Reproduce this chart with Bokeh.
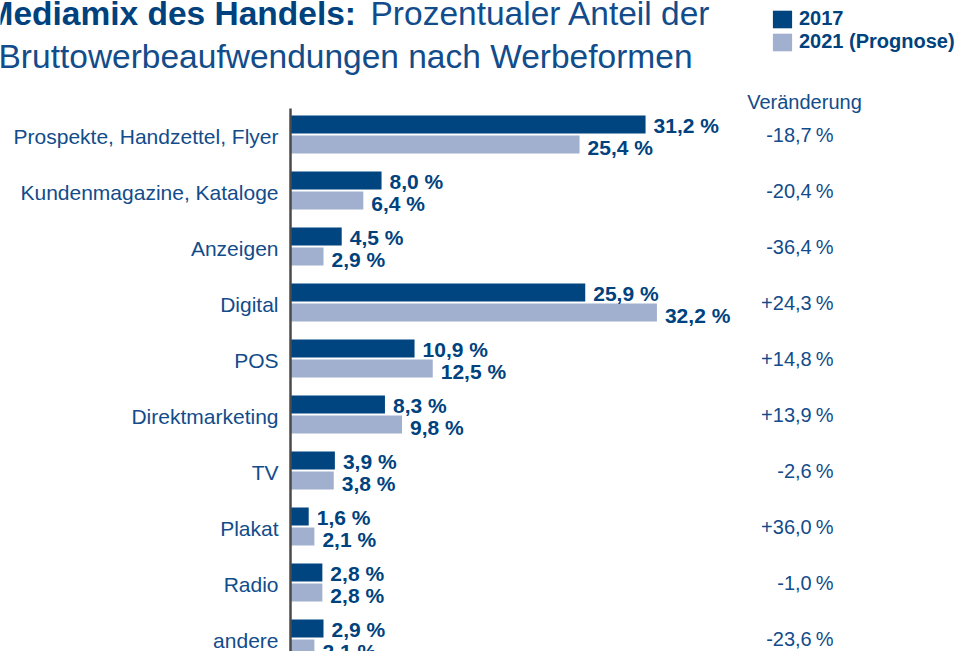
from bokeh.plotting import figure
from bokeh.models import ColumnDataSource, Range1d, Label, Legend, LegendItem
from bokeh.transform import dodge
from bokeh.core.properties import value
from bokeh.embed import file_html
from bokeh.resources import INLINE

# ---------------- data ----------------
categories = [
    "Prospekte, Handzettel, Flyer",
    "Kundenmagazine, Kataloge",
    "Anzeigen",
    "Digital",
    "POS",
    "Direktmarketing",
    "TV",
    "Plakat",
    "Radio",
    "andere",
]
share_2017 = [31.2, 8.0, 4.5, 25.9, 10.9, 8.3, 3.9, 1.6, 2.8, 2.9]
share_2021 = [25.4, 6.4, 2.9, 32.2, 12.5, 9.8, 3.8, 2.1, 2.8, 2.1]
change_pct = [-18.7, -20.4, -36.4, 24.3, 14.8, 13.9, -2.6, 36.0, -1.0, -23.6]
series_labels = ["2017", "2021 (Prognose)"]

title_bold = "Mediamix des Handels:"
title_rest = "Prozentualer Anteil der"
title_line2 = "Bruttowerbeaufwendungen nach Werbeformen"
change_header = "Veränderung"

# ---------------- style / layout ----------------
W, H = 958, 651
PX_PER_PCT = 11.38
ZERO_X = 290
ROW0_Y = 134
ROW_H = 56
BAR_H = 18 / ROW_H
BAR_OFF = 10 / ROW_H

DARK = "#00457f"
LIGHT = "#a2b0d0"
TXT = "#124c8a"
TXT_B = "#00427e"
FONT_NAME = "Liberation Sans"
FONT = value(FONT_NAME)


def fmt_pct(v):
    return f"{v:.1f}".replace(".", ",") + " %"


def fmt_chg(v):
    return f"{v:+.1f}".replace(".", ",") + "\u2009%"


src = ColumnDataSource(dict(
    cat=categories,
    idx=list(range(len(categories))),
    v17=share_2017,
    v21=share_2021,
    lab17=[fmt_pct(v) for v in share_2017],
    lab21=[fmt_pct(v) for v in share_2021],
    chg=[fmt_chg(v) for v in change_pct],
))

p = figure(
    width=W, height=H,
    x_range=Range1d(-ZERO_X / PX_PER_PCT, (W - ZERO_X) / PX_PER_PCT),
    y_range=Range1d((H - ROW0_Y) / ROW_H, -ROW0_Y / ROW_H),
    x_axis_type=None, y_axis_type=None,
    min_border=0, toolbar_location=None, output_backend="svg",
    outline_line_color=None,
)
p.xgrid.visible = False
p.ygrid.visible = False
p.background_fill_color = "white"
p.border_fill_color = "white"

r17 = p.hbar(y=dodge("idx", -BAR_OFF, range=p.y_range), left=0, right="v17",
             height=BAR_H, fill_color=DARK, line_color=None, source=src)
r21 = p.hbar(y=dodge("idx", BAR_OFF, range=p.y_range), left=0, right="v21",
             height=BAR_H, fill_color=LIGHT, line_color=None, source=src)

# vertical axis line
p.segment(x0=[0], y0=[-0.464], x1=[0], y1=[10], line_color="#4a4a4a", line_width=2.5)

# value labels
p.text(x="v17", y=dodge("idx", -BAR_OFF, range=p.y_range), text="lab17", source=src,
       x_offset=8, y_offset=1, text_baseline="middle", text_align="left",
       text_font=FONT, text_font_style="bold", text_font_size="21px", text_color=TXT_B)
p.text(x="v21", y=dodge("idx", BAR_OFF, range=p.y_range), text="lab21", source=src,
       x_offset=8, y_offset=3, text_baseline="middle", text_align="left",
       text_font=FONT, text_font_style="bold", text_font_size="21px", text_color=TXT_B)

# category labels
p.text(x=0, y="idx", text="cat", source=src, x_offset=-12, y_offset=2,
       text_align="right", text_baseline="middle",
       text_font=FONT, text_font_size="21px", text_color=TXT)

# change column
p.text(x=0, y="idx", text="chg", source=src, x_offset=543, y_offset=0,
       text_align="right", text_baseline="middle",
       text_font=FONT, text_font_size="20px", text_color=TXT)

# header of change column
p.add_layout(Label(x=804, y=H - 101, x_units="screen", y_units="screen",
                   text=change_header, text_align="center", text_baseline="middle",
                   text_font=FONT_NAME, text_font_size="20px", text_color=TXT))

# title
p.add_layout(Label(x=-15, y=H - 13, x_units="screen", y_units="screen",
                   text=title_bold, text_baseline="alphabetic",
                   text_font=FONT_NAME, text_font_style="bold", text_font_size="33.5px",
                   text_color=TXT_B))
p.add_layout(Label(x=370, y=H - 13, x_units="screen", y_units="screen",
                   text=title_rest, text_baseline="alphabetic",
                   text_font=FONT_NAME, text_font_size="33.5px", text_color=TXT))
p.add_layout(Label(x=-2, y=H - 56, x_units="screen", y_units="screen",
                   text=title_line2, text_baseline="alphabetic",
                   text_font=FONT_NAME, text_font_size="33.5px", text_color=TXT))

# legend
legend = Legend(
    items=[LegendItem(label=series_labels[0], renderers=[r17]),
           LegendItem(label=series_labels[1], renderers=[r21])],
    location=(770, H - 53), orientation="vertical",
    glyph_width=24, glyph_height=22, label_standoff=5, spacing=0,
    padding=0, margin=0, border_line_color=None, background_fill_alpha=0,
    label_text_font=FONT_NAME, label_text_font_style="bold",
    label_text_font_size="20px", label_text_color=TXT_B,
)
p.add_layout(legend)

open("out.html", "w").write(file_html(p, INLINE))
